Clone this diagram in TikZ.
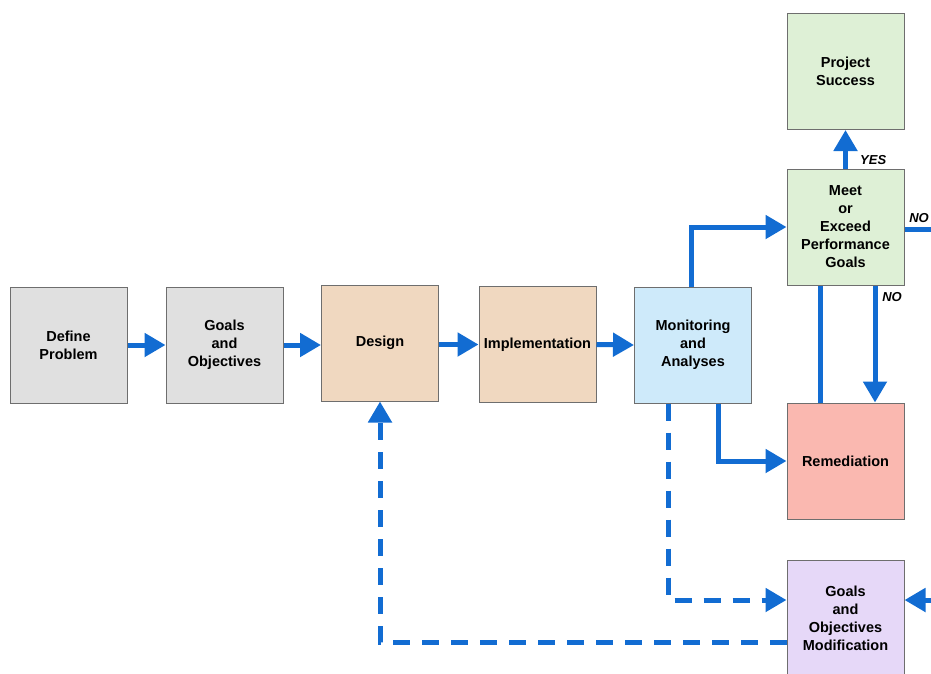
\documentclass[tikz,border=0pt]{standalone}
\usepackage{fontspec}
\setmainfont{Liberation Sans}
\usetikzlibrary{arrows.meta,calc}
\definecolor{flowblue}{RGB}{18,108,210}
\definecolor{boxgray}{RGB}{224,224,224}
\definecolor{boxtan}{RGB}{240,216,192}
\definecolor{boxblue}{RGB}{206,234,250}
\definecolor{boxgreen}{RGB}{222,240,214}
\definecolor{boxpink}{RGB}{250,184,176}
\definecolor{boxlav}{RGB}{230,216,248}
\definecolor{boxedge}{RGB}{110,110,110}
\tikzset{
  stepbox/.style={draw=boxedge, line width=1pt, minimum width=117pt, minimum height=116pt,
    inner sep=0pt, align=center, font=\bfseries\fontsize{14.5}{18}\selectfont},
  flow/.style={draw=flowblue, line width=5pt, -{Triangle[length=21pt,width=23pt]}},
  flowplain/.style={draw=flowblue, line width=5pt},
  flowdash/.style={flow, dash pattern=on 17pt off 12pt},
  lbl/.style={font=\bfseries\itshape\fontsize{13}{15}\selectfont, inner sep=0pt}
}
\begin{document}
\begin{tikzpicture}[x=1pt,y=-1pt]
\useasboundingbox (0,0) rectangle (931,673);
\clip (0,0) rectangle (931,673);
\node[stepbox, fill=boxgray] (def) at (68.5,345) {Define\\Problem};
\node[stepbox, fill=boxgray] (goals) at (224.5,345) {Goals\\and\\Objectives};
\node[stepbox, fill=boxtan] (design) at (380,343) {Design};
\node[stepbox, fill=boxtan] (impl) at (537.5,344.5) {Implementation};
\node[stepbox, fill=boxblue] (mon) at (693,345) {Monitoring\\and\\Analyses};
\node[stepbox, fill=boxgreen] (succ) at (845.5,71.5) {Project\\Success};
\node[stepbox, fill=boxgreen] (meet) at (845.5,227) {Meet\\or\\Exceed\\Performance\\Goals};
\node[stepbox, fill=boxpink] (rem) at (845.5,461) {Remediation};
\node[stepbox, fill=boxlav] (gom) at (845.5,618) {Goals\\and\\Objectives\\Modification};
\coordinate (farright) at (948,0);
% main chain
\draw[flow] (def.east) -- (goals.west);
\draw[flow] (goals.east) -- (goals.east -| design.west);
\draw[flow] (design.east |- impl.east) -- (impl.west);
\draw[flow] (impl.east) -- (mon.west);
% monitoring to meet
\draw[flow] ([xshift=-2pt]mon.north) |- (meet.west);
% yes
\draw[flow] (meet.north) -- (succ.south);
\node[lbl, anchor=west] (yes) at (860,160) {YES};
% no to the right
\draw[flow] ([yshift=-2pt]meet.east) -- ([yshift=-2pt]meet.east -| farright) |- ([yshift=18pt]gom.east);
\node[lbl] (no1) at (919,218) {NO};
% meet - remediation
\draw[flowplain] ([xshift=-25.5pt]meet.south) -- ([xshift=-25.5pt]rem.north);
\draw[flow] ([xshift=29.5pt]meet.south) -- ([xshift=29.5pt]rem.north);
\node[lbl] (no2) at (892,297) {NO};
% monitoring to remediation
\draw[flow] ([xshift=25pt]mon.south) |- (rem.west);
% dashed
\draw[flowdash] ([xshift=-25pt]mon.south) |- ([yshift=18pt]gom.west);
\draw[flowdash] ([yshift=-24pt]gom.west) -| (design.south);
\end{tikzpicture}
\end{document}
